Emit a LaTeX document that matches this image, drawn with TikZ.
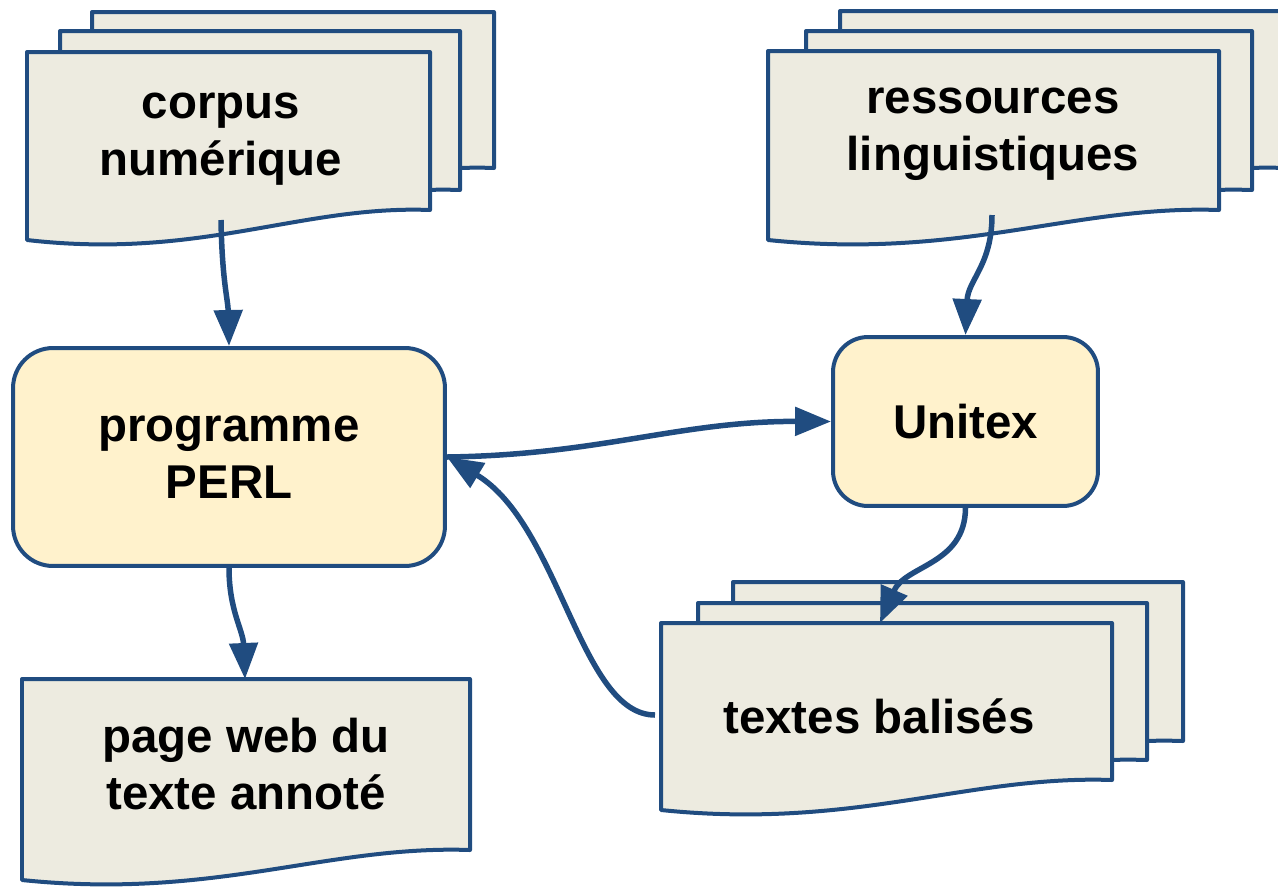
\documentclass[tikz,border=0pt]{standalone}
\usepackage{fontspec}
\setmainfont{Liberation Sans}
\usetikzlibrary{arrows.meta}

% page de document au bas ondule : x, y, largeur, hauteur (en pixels)
\newcommand{\docpage}[4]{%
  \draw[pageline] (#1,#2) -- (#1+#3,#2) -- (#1+#3,#2+#4)
    .. controls (#1+0.68*#3,#2+#4-5) and (#1+0.43*#3,#2+#4+50) .. (#1,#2+#4+30) -- cycle;}

\begin{document}
\begin{tikzpicture}[x=0.02cm,y=-0.02cm]
    \definecolor{myblue}{RGB}{32,76,128}
    \definecolor{mypaper}{RGB}{237,235,224}
    \definecolor{myyellow}{RGB}{255,242,204}

    \fontsize{27pt}{32.5pt}\selectfont\bfseries  % police du schema
    \tikzstyle{pageline}=[draw=myblue,line width=0.08cm,fill=mypaper,line join=round]  % pages
    \tikzstyle{doctext}=[align=center,inner sep=0pt]  % texte sur les pages
    \tikzstyle{block}=[rectangle,draw=myblue,line width=0.08cm,fill=myyellow,align=center]  % programmes
    \tikzstyle{flow}=[draw=myblue,line width=0.11cm,-{Triangle[length=0.72cm,width=0.56cm]}]  % fleches

    \useasboundingbox (0,0) rectangle (1278,890);

    % piles de documents
    \docpage{92}{12}{402}{156}
    \docpage{60}{31}{400}{159}
    \docpage{27}{52}{403}{158}
    \docpage{840}{11}{446}{157}
    \docpage{806}{31}{446}{159}
    \docpage{768}{51}{451}{159}
    \docpage{733}{582}{450}{159}
    \docpage{698}{603}{449}{157}
    \docpage{661}{623}{451}{157}
    \docpage{22}{679}{448}{171}

    % noeuds
    \node[doctext](corpus) at (221,139){corpus\\numérique};
    \node[doctext](ressources) at (993,134){ressources\\linguistiques};
    \node[doctext](textes) at (879,716){textes balisés};
    \node[doctext](pageweb) at (246,764){page web du\\texte annoté};
    \node[block,minimum width=8.64cm,minimum height=4.36cm,rounded corners=0.8cm](perl) at (229,457){programme\\PERL};
    \node[block,minimum width=5.3cm,minimum height=3.38cm,rounded corners=0.7cm](unitex) at (965.5,421.5){Unitex};

    % points d'attache
    \coordinate (corpus-out) at (221,220);
    \coordinate (ressources-out) at (992,215);
    \coordinate (textes-in) at (880,623);
    \coordinate (textes-out) at (655,715);
    \coordinate (pageweb-in) at (245,679);

    % fleches
    \draw[flow](corpus-out) .. controls (222,280) and (228,300) .. (perl.north);
    \draw[flow](ressources-out) .. controls (992,265) and (968,280) .. (unitex.north);
    \draw[flow](perl.east) .. controls (600,455) and (680,421) .. (unitex.west);
    \draw[flow](unitex.south) .. controls (965,565) and (905,565) .. (textes-in);
    \draw[flow](textes-out) .. controls (580,715) and (560,525) .. (perl.east);
    \draw[flow](perl.south) .. controls (229,610) and (243,630) .. (pageweb-in);
\end{tikzpicture}
\end{document}
